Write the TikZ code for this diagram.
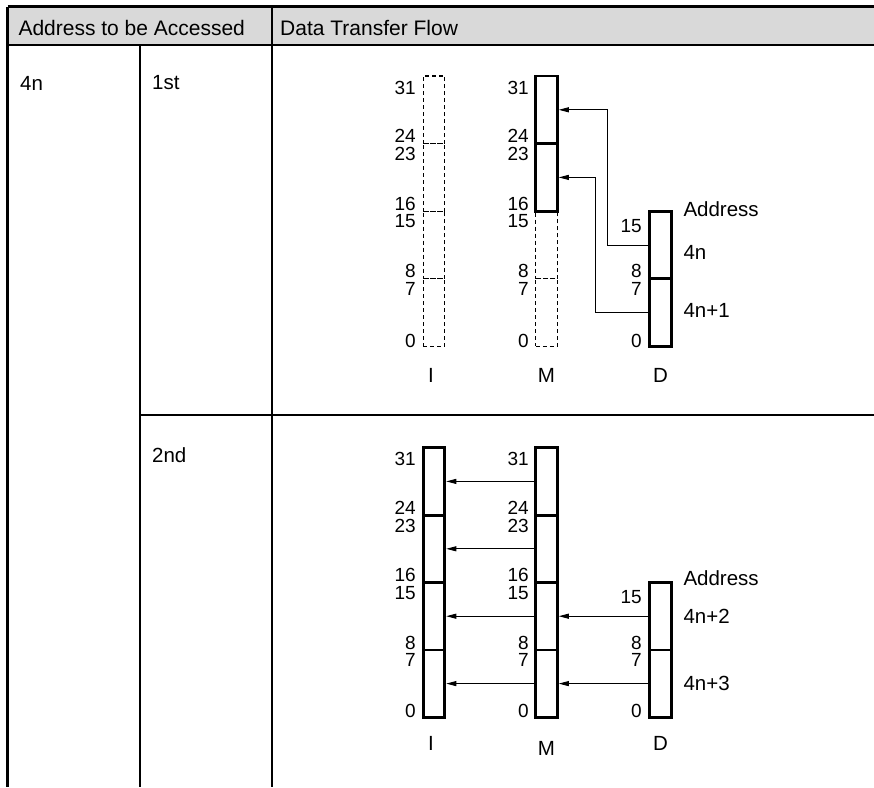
\documentclass[tikz,border=0pt]{standalone}
\usepackage{fontspec}
\setmainfont{Liberation Sans}
\usetikzlibrary{arrows.meta}
\definecolor{hdrgray}{HTML}{D9D9D9}
\begin{document}
\begin{tikzpicture}[x=1pt,y=-1pt,
  tbl/.style={line width=2.8pt},
  cellbase/.style={rectangle, minimum width=21.5pt, inner sep=0pt, outer sep=0pt, anchor=north west},
  cella/.style={cellbase, draw, line width=2.8pt, minimum height=67.6pt},
  dcella/.style={cellbase, draw, line width=1.2pt, dash pattern=on 4pt off 3pt, minimum height=67.6pt},
  cellb/.style={cellbase, draw, line width=2.8pt, minimum height=67.4pt},
  arr/.style={line width=0.9pt, shorten >=1.5pt, -{Triangle[length=10pt,width=5pt]}},
  num/.style={inner sep=0pt, font=\fontsize{19}{19}\selectfont},
  lbl/.style={inner sep=0pt, font=\fontsize{20.5}{20.5}\selectfont},
  hdr/.style={inner sep=0pt, font=\fontsize{21}{21}\selectfont, anchor=west},
]
\useasboundingbox (0,0) rectangle (874,787);

% ---- table ----
\fill[hdrgray] (7.5,6.5) rectangle (874,45);
\draw[tbl] (7.5,6.5) -- (874,6.5);
\draw[tbl] (7.5,45) -- (874,45);
\draw[tbl] (7.5,6.5) -- (7.5,787);
\draw[tbl] (272,6.5) -- (272,787);
\draw[tbl] (140,45) -- (140,787);
\draw[tbl] (140,415) -- (874,415);

\node[hdr] (h1) at (18.3,27.5) {Address to be Accessed};
\node[hdr] (h2) at (280,27.5) {Data Transfer Flow};
\node[lbl, anchor=west] (r4n) at (20,83) {4n};
\node[lbl, anchor=west] (r1st) at (152,83) {1st};
\node[lbl, anchor=west] (r2nd) at (152,455) {2nd};

% ---- panel 1 ----
\node[dcella] (I1) at (423.25,76) {};
\node[dcella] (I2) at (423.25,143.6) {};
\node[dcella] (I3) at (423.25,211.2) {};
\node[dcella] (I4) at (423.25,278.8) {};
\node[dcella] (M3) at (535.75,211.2) {};
\node[dcella] (M4) at (535.75,278.8) {};
\node[cella] (M1) at (535.75,76) {};
\node[cella] (M2) at (535.75,143.6) {};
\node[cella] (D1) at (649.75,211.2) {};
\node[cella] (D2) at (649.75,278.8) {};

\foreach \xx/\nm in {416/pa, 529/pb}{
  \node[num, anchor=north east] (\nm31) at (\xx,81) {31};
  \node[num, anchor=south east] (\nm24) at (\xx,143.1) {24};
  \node[num, anchor=north east] (\nm23) at (\xx,147.1) {23};
  \node[num, anchor=south east] (\nm16) at (\xx,210.7) {16};
  \node[num, anchor=north east] (\nm15) at (\xx,214.7) {15};
  \node[num, anchor=south east] (\nm8) at (\xx,278.3) {8};
  \node[num, anchor=north east] (\nm7) at (\xx,282.3) {7};
  \node[num, anchor=south east] (\nm0) at (\xx,347.4) {0};
}
\node[num, anchor=north east] (pc15) at (642,219.5) {15};
\node[num, anchor=south east] (pc8) at (642,278.3) {8};
\node[num, anchor=north east] (pc7) at (642,282.3) {7};
\node[num, anchor=south east] (pc0) at (642,347.4) {0};

\node[lbl] (lI) at (431,375) {I};
\node[lbl] (lM) at (546.5,375) {M};
\node[lbl] (lD) at (660.5,375) {D};
\node[lbl, anchor=west] (adr1) at (683.3,209.5) {Address};
\node[lbl, anchor=west] (a4n) at (683.3,252.5) {4n};
\node[lbl, anchor=west] (a4n1) at (683.3,310.8) {4n+1};

\draw[arr] (D1.west) -- ++(-42,0) |- (M1.east);
\draw[arr] (D2.west) -- ++(-54,0) |- (M2.east);

% ---- panel 2 ----
\node[cellb] (Ib1) at (423.25,447.7) {};
\node[cellb] (Ib2) at (423.25,515.1) {};
\node[cellb] (Ib3) at (423.25,582.5) {};
\node[cellb] (Ib4) at (423.25,649.9) {};
\node[cellb] (Mb1) at (535.75,447.7) {};
\node[cellb] (Mb2) at (535.75,515.1) {};
\node[cellb] (Mb3) at (535.75,582.5) {};
\node[cellb] (Mb4) at (535.75,649.9) {};
\node[cellb] (Db1) at (649.75,582.5) {};
\node[cellb] (Db2) at (649.75,649.9) {};

\foreach \xx/\nm in {416/qa, 529/qb}{
  \node[num, anchor=north east] (\nm31) at (\xx,452.5) {31};
  \node[num, anchor=south east] (\nm24) at (\xx,514.6) {24};
  \node[num, anchor=north east] (\nm23) at (\xx,518.6) {23};
  \node[num, anchor=south east] (\nm16) at (\xx,582) {16};
  \node[num, anchor=north east] (\nm15) at (\xx,586) {15};
  \node[num, anchor=south east] (\nm8) at (\xx,649.4) {8};
  \node[num, anchor=north east] (\nm7) at (\xx,653.4) {7};
  \node[num, anchor=south east] (\nm0) at (\xx,717.8) {0};
}
\node[num, anchor=north east] (qc15) at (642,590.5) {15};
\node[num, anchor=south east] (qc8) at (642,649.4) {8};
\node[num, anchor=north east] (qc7) at (642,653.4) {7};
\node[num, anchor=south east] (qc0) at (642,717.8) {0};

\node[lbl] (lIb) at (431,743.3) {I};
\node[lbl] (lMb) at (546.5,748.3) {M};
\node[lbl] (lDb) at (660.5,743.3) {D};
\node[lbl, anchor=west] (adr2) at (683.3,578) {Address};
\node[lbl, anchor=west] (a4n2) at (683.3,616) {4n+2};
\node[lbl, anchor=west] (a4n3) at (683.3,683) {4n+3};

\draw[arr] (Mb1.west) -- (Ib1.east);
\draw[arr] (Mb2.west) -- (Ib2.east);
\draw[arr] (Mb3.west) -- (Ib3.east);
\draw[arr] (Mb4.west) -- (Ib4.east);
\draw[arr] (Db1.west) -- (Mb3.east);
\draw[arr] (Db2.west) -- (Mb4.east);
\end{tikzpicture}
\end{document}
